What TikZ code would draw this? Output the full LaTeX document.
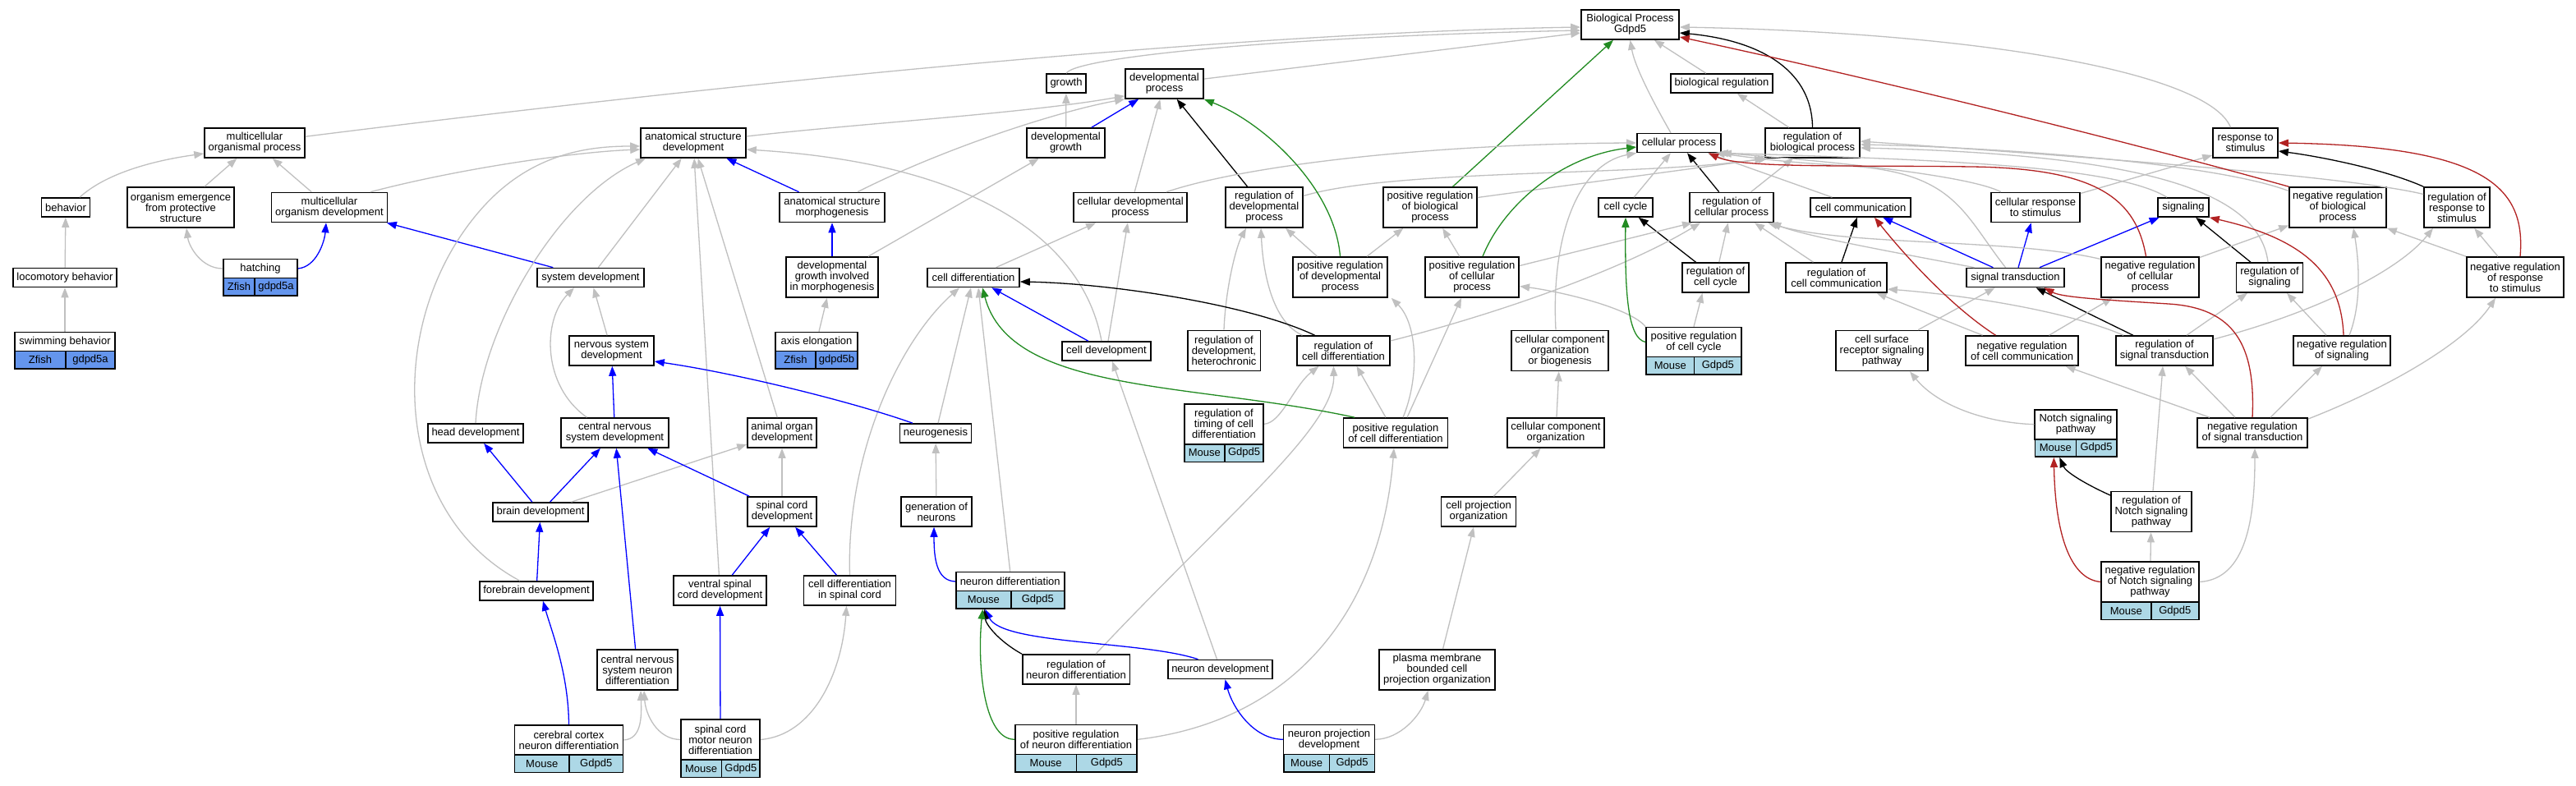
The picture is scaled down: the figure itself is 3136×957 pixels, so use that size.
\documentclass[tikz,border=0pt]{standalone}
\usepackage{fontspec}
\setmainfont{Liberation Sans}
\usetikzlibrary{arrows.meta}
\definecolor{edgegray}{HTML}{C0C0C0}
\definecolor{forest}{HTML}{228B22}
\definecolor{brick}{HTML}{B22222}
\definecolor{mouseblue}{HTML}{ADD8E6}
\definecolor{fishblue}{HTML}{6495ED}

\begin{document}
\begin{tikzpicture}[x=1pt, y=-1pt,
	term/.style={draw=black, line width=1.6pt, fill=white, inner sep=1pt, align=center, font=\fontsize{13pt}{13pt}\selectfont},
	l1/.style={term, minimum height=23pt},
	l2/.style={term, minimum height=36pt},
	l3/.style={term, minimum height=49pt},
	mouse/.style={term, fill=mouseblue, minimum height=21.5pt},
	zfish/.style={term, fill=fishblue, minimum height=21.5pt},
	isa/.style={edgegray, line width=1.3pt, -{Triangle[length=12pt, width=9pt]}},
	partof/.style={isa, blue},
	reg/.style={isa, black},
	posreg/.style={isa, forest},
	negreg/.style={isa, brick}]
	\useasboundingbox[fill=white] (0,0) rectangle (3136,957);

	\node[l1, minimum width=122pt] (swim) at (79,416) {swimming behavior};
	\node[zfish, minimum width=62pt] (swim-s) at (49,438.25) {Zfish};
	\node[zfish, minimum width=60pt] (swim-g) at (110,438.25) {gdpd5a};
	\node[l1, minimum width=126pt] (loco) at (79,338) {locomotory behavior};
	\node[l1, minimum width=59pt] (behav) at (80,252.5) {behavior};
	\node[l2, minimum width=122pt] (mop) at (310,174) {multicellular\\organismal process};
	\node[l3, minimum width=130pt] (oe) at (220,252.5) {organism emergence\\from protective\\structure};
	\node[l2, minimum width=141pt] (mod) at (401,252.5) {multicellular\\organism development};
	\node[l1, minimum width=90pt] (hatch) at (317,327) {hatching};
	\node[zfish, minimum width=38pt] (hatch-s) at (291,349.25) {Zfish};
	\node[zfish, minimum width=52pt] (hatch-g) at (336,349.25) {gdpd5a};
	\node[l1, minimum width=130pt] (sysdev) at (719,338) {system development};
	\node[l2, minimum width=103pt] (nsd) at (744.5,427) {nervous system\\development};
	\node[l2, minimum width=128pt] (asd) at (844,174) {anatomical structure\\development};
	\node[l1, minimum width=116pt] (headdev) at (579,527.5) {head development};
	\node[l2, minimum width=131pt] (cnsd) at (748.5,527) {central nervous\\system development};
	\node[l1, minimum width=116pt] (braindev) at (658,623.5) {brain development};
	\node[l1, minimum width=138pt] (fbdev) at (653,719.5) {forebrain development};
	\node[l3, minimum width=98.5pt] (cnsnd) at (776,815.5) {central nervous\\system neuron\\differentiation};
	\node[l2, minimum width=132pt] (ccnd) at (692.5,901) {cerebral cortex\\neuron differentiation};
	\node[mouse, minimum width=66.5pt] (ccnd-m) at (659.75,929.75) {Mouse};
	\node[mouse, minimum width=65.5pt] (ccnd-g) at (725.75,929.75) {Gdpd5};
	\node[l2, minimum width=84pt] (aod) at (952,527) {animal organ\\development};
	\node[l2, minimum width=84pt] (scd) at (952,623) {spinal cord\\development};
	\node[l2, minimum width=113pt] (vscd) at (876.5,719) {ventral spinal\\cord development};
	\node[l2, minimum width=112pt] (cdisc) at (1034.5,719) {cell differentiation\\in spinal cord};
	\node[l3, minimum width=96.5pt] (scmnd) at (877,900.5) {spinal cord\\motor neuron\\differentiation};
	\node[mouse, minimum width=49.75pt] (scmnd-m) at (853.6,935.75) {Mouse};
	\node[mouse, minimum width=46.75pt] (scmnd-g) at (901.9,935.75) {Gdpd5};
	\node[l1, minimum width=87pt] (neurog) at (1139,527.5) {neurogenesis};
	\node[l2, minimum width=86pt] (gon) at (1140,623) {generation of\\neurons};
	\node[l1, minimum width=132pt] (nd) at (1229.7,708) {neuron differentiation};
	\node[mouse, minimum width=67.3pt] (nd-m) at (1197.35,730.25) {Mouse};
	\node[mouse, minimum width=64.7pt] (nd-g) at (1263.35,730.25) {Gdpd5};
	\node[l2, minimum width=130.6pt] (rnd) at (1310,815) {regulation of\\neuron differentiation};
	\node[l1, minimum width=127pt] (ndev) at (1485.5,815) {neuron development};
	\node[l2, minimum width=148.5pt] (prnd) at (1310,900.3) {positive regulation\\of neuron differentiation};
	\node[mouse, minimum width=74.85pt] (prnd-m) at (1273.2,929.05) {Mouse};
	\node[mouse, minimum width=73.65pt] (prnd-g) at (1347.4,929.05) {Gdpd5};
	\node[l3, minimum width=96.5pt] (rtcd) at (1490,516.3) {regulation of\\timing of cell\\differentiation};
	\node[mouse, minimum width=49.25pt] (rtcd-m) at (1466.4,551.55) {Mouse};
	\node[mouse, minimum width=47.25pt] (rtcd-g) at (1514.6,551.55) {Gdpd5};

	\node[l1, minimum width=48pt] (growth) at (1298,101.5) {growth};
	\node[l2, minimum width=95pt] (dp) at (1417.5,102) {developmental\\process};
	\node[l2, minimum width=95pt] (dg) at (1297.5,174) {developmental\\growth};
	\node[l2, minimum width=128pt] (asm) at (1013,252.5) {anatomical structure\\morphogenesis};
	\node[l2, minimum width=138pt] (cdp) at (1376,252.5) {cellular developmental\\process};
	\node[l3, minimum width=94pt] (rdp) at (1539,252.5) {regulation of\\developmental\\process};
	\node[l3, minimum width=112pt] (dgim) at (1013,337.5) {developmental\\growth involved\\in morphogenesis};
	\node[l1, minimum width=112pt] (celldiff) at (1185,338) {cell differentiation};
	\node[l1, minimum width=100pt] (axis) at (994,416) {axis elongation};
	\node[zfish, minimum width=49pt] (axis-s) at (968.5,438.25) {Zfish};
	\node[zfish, minimum width=51pt] (axis-g) at (1018.5,438.25) {gdpd5b};
	\node[l1, minimum width=108pt] (celldev) at (1347,427.5) {cell development};
	\node[l3, minimum width=88.6pt] (rdh) at (1490,427) {regulation of\\development,\\heterochronic};
	\node[l2, minimum width=113pt] (rcd) at (1635.5,427) {regulation of\\cell differentiation};
	\node[l2, minimum width=127pt] (prcd) at (1699,527) {positive regulation\\of cell differentiation};
	\node[l2, minimum width=118.5pt] (cco) at (1894,527) {cellular component\\organization};
	\node[l2, minimum width=91pt] (cpo) at (1800,623) {cell projection\\organization};
	\node[l3, minimum width=141pt] (pmb) at (1749.5,815.5) {plasma membrane\\bounded cell\\projection organization};
	\node[l2, minimum width=110.7pt] (npd) at (1618,900.3) {neuron projection\\development};
	\node[mouse, minimum width=56pt] (npd-m) at (1590.7,929.05) {Mouse};
	\node[mouse, minimum width=54.65pt] (npd-g) at (1646,929.05) {Gdpd5};
	\node[l2, minimum width=119pt] (bp) at (1984.5,30) {Biological Process\\Gdpd5};
	\node[l1, minimum width=123.5pt] (br) at (2096,101.5) {biological regulation};
	\node[l1, minimum width=102pt] (cp) at (2044,174) {cellular process};
	\node[l2, minimum width=115pt] (rbp) at (2206.5,174) {regulation of\\biological process};
	\node[l3, minimum width=114pt] (prbp) at (1741,252.5) {positive regulation\\of biological\\process};
	\node[l1, minimum width=66pt] (cc) at (1979,252.5) {cell cycle};
	\node[l2, minimum width=101.5pt] (rcp) at (2108,252.5) {regulation of\\cellular process};
	\node[l1, minimum width=122pt] (ccom) at (2265,252.5) {cell communication};
	\node[l3, minimum width=115pt] (prdp) at (1631.5,337.5) {positive regulation\\of developmental\\process};
	\node[l3, minimum width=114.5pt] (prcp) at (1792,337.5) {positive regulation\\of cellular\\process};
	\node[l2, minimum width=81pt] (rcc) at (2088.5,338) {regulation of\\cell cycle};
	\node[l2, minimum width=123pt] (rccom) at (2235.5,338) {regulation of\\cell communication};
	\node[l3, minimum width=118pt] (ccob) at (1899,427) {cellular component\\organization\\or biogenesis};
	\node[l2, minimum width=116pt] (prcc) at (2062,416.5) {positive regulation\\of cell cycle};
	\node[mouse, minimum width=58.5pt] (prcc-m) at (2033.25,445.25) {Mouse};
	\node[mouse, minimum width=57.5pt] (prcc-g) at (2091.25,445.25) {Gdpd5};
	\node[l3, minimum width=112.5pt] (csrsp) at (2291,427) {cell surface\\receptor signaling\\pathway};

	\node[l2, minimum width=79pt] (rts) at (2733.5,174) {response to\\stimulus};
	\node[l2, minimum width=108pt] (crts) at (2478,252.5) {cellular response\\to stimulus};
	\node[l1, minimum width=62pt] (sig) at (2658,252.5) {signaling};
	\node[l3, minimum width=118pt] (nrbp) at (2846,252.5) {negative regulation\\of biological\\process};
	\node[l3, minimum width=80pt] (rrts) at (2991,252.5) {regulation of\\response to\\stimulus};
	\node[l1, minimum width=119pt] (st) at (2453.5,338) {signal transduction};
	\node[l3, minimum width=119pt] (nrcp) at (2617.5,337.5) {negative regulation\\of cellular\\process};
	\node[l2, minimum width=81pt] (rsig) at (2763,338) {regulation of\\signaling};
	\node[l3, minimum width=118.5pt] (nrrts) at (3062,337.5) {negative regulation\\of response\\to stimulus};
	\node[l2, minimum width=137pt] (nrccom) at (2461.5,427) {negative regulation\\of cell communication};
	\node[l2, minimum width=118pt] (rst) at (2635,427) {regulation of\\signal transduction};
	\node[l2, minimum width=118.5pt] (nrsig) at (2851,427) {negative regulation\\of signaling};
	\node[l2, minimum width=99.5pt] (nsp) at (2527,516.7) {Notch signaling\\pathway};
	\node[mouse, minimum width=50pt] (nsp-m) at (2502.3,545.45) {Mouse};
	\node[mouse, minimum width=49.45pt] (nsp-g) at (2552,545.45) {Gdpd5};
	\node[l2, minimum width=134.5pt] (nrst) at (2742,527) {negative regulation\\of signal transduction};
	\node[l3, minimum width=98.5pt] (rnsp) at (2619,623) {regulation of\\Notch signaling\\pathway};
	\node[l3, minimum width=119pt] (nrnsp) at (2617.5,708.5) {negative regulation\\of Notch signaling\\pathway};
	\node[mouse, minimum width=60.7pt] (nrnsp-m) at (2588.35,743.75) {Mouse};
	\node[mouse, minimum width=58.3pt] (nrnsp-g) at (2647.85,743.75) {Gdpd5};

	\foreach \a/\b in {loco/behav, swim/loco, oe/mop, mod/mop, nsd/sysdev, sysdev/asd, aod/asd, vscd/asd, scd/aod, braindev/aod, gon/neurog, dgim/dg, axis/dgim, dg/growth, cdp/dp, celldiff/cdp, celldev/cdp, br/bp, rbp/br, cc/cp, ccom/cp, rcp/rbp, rcc/rcp, rccom/rcp, prdp/prbp, prcp/prbp, prnd/rnd, cpo/cco, cco/ccob, nrrts/rrts, rst/rsig, nrnsp/rnsp}{
		\draw[isa] (\a) -- (\b);
	}
	\foreach \a/\b in {asm/asd, dgim/asm, dg/dp, sysdev/mod, cnsd/nsd, braindev/headdev, braindev/cnsd, fbdev/braindev, cnsnd/cnsd, scmnd/vscd, vscd/scd, cdisc/scd, scd/cnsd, celldev/celldiff, st/ccom, st/crts, st/sig}{
		\draw[partof] (\a) -- (\b);
	}
	\foreach \a/\b in {rdp/dp, rcp/cp, rcc/cc, rccom/ccom, rsig/sig, rst/st}{
		\draw[reg] (\a) -- (\b);
	}
	\draw[posreg] (prbp) -- (bp);

	\draw[isa] (mop) .. controls (900,100) and (1500,40) .. ([yshift=-3pt]bp.west);
	\draw[isa] (growth.north) .. controls (1310,70) and (1550,45) .. ([yshift=-7pt]bp.west);
	\draw[isa] (dp) -- ([yshift=-10pt]bp.west);
	\draw[isa] ([xshift=-10pt]cp.north) .. controls (2010,120) and (1990,80) .. (bp.south);
	\draw[isa] ([xshift=-18pt]rts.north) .. controls (2690,90) and (2420,40) .. ([yshift=-3pt]bp.east);
	\draw[isa] ([xshift=17pt]behav.north) .. controls (130,210) and (190,195) .. ([yshift=-13pt]mop.west);
	\draw[isa] (hatch.west) .. controls (245,327) and (230,300) .. ([xshift=7pt]oe.south);
	\draw[isa] ([xshift=50pt]mod.north) .. controls (560,205) and (700,185) .. ([yshift=-8pt]asd.west);
	\draw[isa] ([xshift=-34pt]cnsd.north) .. controls (660,470) and (660,390) .. ([xshift=-20pt]sysdev.south);
	\draw[isa] (headdev.north) .. controls (585,400) and (680,240) .. ([xshift=-58pt]asd.south);
	\draw[isa] ([xshift=-20pt]fbdev.north) .. controls (470,620) and (470,380) .. (590,250) .. controls (650,185) and (720,178) .. ([yshift=-4pt]asd.west);
	\draw[isa] (ccnd.east) .. controls (782,900) and (781,870) .. ([xshift=4pt]cnsnd.south);
	\draw[isa] (scmnd.west) .. controls (800,900) and (786,870) .. ([xshift=8pt]cnsnd.south);
	\draw[isa] (scmnd.east) .. controls (990,895) and (1025,820) .. ([xshift=-4pt]cdisc.south);
	\draw[isa] (cdisc.north) .. controls (1030,560) and (1090,420) .. ([xshift=-17pt]celldiff.south);
	\draw[isa] ([xshift=3pt]neurog.north) -- ([xshift=-3pt]celldiff.south);
	\draw[isa] (nd.north) -- ([xshift=6pt]celldiff.south);
	\draw[isa] ([xshift=-6pt]celldev.north) .. controls (1320,300) and (1200,200) .. ([yshift=-8pt]asd.east);
	\draw[isa] ([yshift=8pt]asd.east) .. controls (1050,150) and (1250,138) .. ([yshift=4pt]dp.south west);
	\draw[isa] ([xshift=31pt]asm.north) .. controls (1150,180) and (1290,135) .. (dp.south west);
	\draw[isa] ([xshift=44pt]cdp.north) .. controls (1520,200) and (1750,175) .. (cp.west);
	\draw[isa] ([yshift=14pt]rdp.east) .. controls (1700,205) and (2000,215) .. (rbp.south west);
	\draw[isa] ([yshift=12pt]prbp.east) -- ([xshift=4pt]rbp.south west);
	\draw[isa] ([xshift=-28pt]prdp.north) -- ([xshift=26pt]rdp.south);
	\draw[isa] (rdh.north) .. controls (1492,350) and (1505,300) .. ([xshift=-22pt]rdp.south);
	\draw[isa] ([xshift=-50pt]rcd.north) .. controls (1545,390) and (1537,320) .. ([xshift=-4pt]rdp.south);
	\draw[isa] (rtcd.east) .. controls (1560,515) and (1575,470) .. ([xshift=-30pt]rcd.south);
	\draw[isa] ([xshift=24pt]rnd.north) .. controls (1500,620) and (1625,520) .. ([xshift=-12pt]rcd.south);
	\draw[isa] ([xshift=-12pt]prcd.north) -- ([xshift=16pt]rcd.south);
	\draw[isa] ([xshift=9pt]prcd.north) .. controls (1728,460) and (1726,395) .. ([xshift=4pt]prdp.south east);
	\draw[isa] ([xshift=14pt]prcd.north) -- ([xshift=-13pt]prcp.south);
	\draw[isa] (prnd.east) .. controls (1560,880) and (1680,760) .. ([xshift=-2pt]prcd.south);
	\draw[isa] ([xshift=-4pt]ndev.north) -- ([xshift=7pt]celldev.south);
	\draw[isa] (npd.east) .. controls (1705,900) and (1730,870) .. ([xshift=-11pt]pmb.south);
	\draw[isa] ([xshift=7pt]pmb.north) -- ([xshift=-6pt]cpo.south);
	\draw[isa] ([xshift=-5pt]ccob.north) .. controls (1888,290) and (1920,200) .. (cp.south west);
	\draw[isa] ([yshift=14pt]prcp.east) -- ([xshift=-48pt]rcp.south);
	\draw[isa] ([yshift=12pt]rcd.east) .. controls (1850,375) and (1990,320) .. ([xshift=-38pt]rcp.south);
	\draw[isa] (prcc.north west) .. controls (1985,375) and (1900,355) .. ([yshift=-11pt]prcp.east);
	\draw[isa] (prcc.north) -- ([xshift=-16pt]rcc.south);
	\draw[isa] ([xshift=-42pt]crts.north) .. controls (2400,215) and (2250,198) .. (cp.south east);
	\draw[isa] ([xshift=-20pt]sig.north) .. controls (2580,205) and (2400,195) .. ([xshift=-4pt]cp.south east);
	\draw[isa] ([xshift=-12pt]st.north) .. controls (2390,260) and (2380,210) .. (2250,202) .. controls (2160,197) and (2120,190) .. ([xshift=-8pt]cp.south east);
	\draw[isa] ([xshift=-50pt]st.north) .. controls (2300,306) and (2200,288) .. ([xshift=48pt]rcp.south);
	\draw[isa] ([yshift=17pt]crts.east) -- ([yshift=-15pt]rts.west);
	\draw[isa] ([xshift=-48pt]nrccom.north) -- ([xshift=49pt]rccom.south);
	\draw[isa] ([xshift=33pt]nrccom.north) -- ([xshift=-46pt]nrcp.south);
	\draw[isa] ([xshift=-50pt]rst.north) .. controls (2520,380) and (2400,360) .. ([yshift=-14pt]rccom.east);
	\draw[isa] ([xshift=44pt]csrsp.north) -- ([xshift=-25pt]st.south);
	\draw[isa] (nsp.west) .. controls (2420,515) and (2360,495) .. ([xshift=34pt]csrsp.south);
	\draw[isa] ([xshift=2pt]rnsp.north) -- ([xshift=-2pt]rst.south);
	\draw[isa] (nrnsp.east) .. controls (2735,705) and (2745,630) .. ([xshift=3pt]nrst.south);
	\draw[isa] ([xshift=-21pt]nrst.north) -- ([xshift=25pt]rst.south);
	\draw[isa] ([xshift=-52pt]nrst.north) -- ([xshift=53pt]nrccom.south);
	\draw[isa] ([xshift=22pt]nrst.north) -- ([xshift=-24pt]nrsig.south);
	\draw[isa] ([yshift=17pt]nrst.east) .. controls (2900,475) and (3000,420) .. ([xshift=-24pt]nrrts.south);
	\draw[isa] ([xshift=-19pt]nrsig.north) -- ([xshift=21pt]rsig.south);
	\draw[isa] ([xshift=9pt]nrsig.north) .. controls (2875,370) and (2872,320) .. ([xshift=19pt]nrbp.south);
	\draw[isa] ([yshift=14pt]rst.east) .. controls (2820,380) and (2920,330) .. ([xshift=-29pt]rrts.south);
	\draw[isa] ([yshift=24pt]nrcp.east) -- ([yshift=-22pt]nrbp.west);
	\draw[isa] ([yshift=22pt]nrcp.west) .. controls (2450,290) and (2250,300) .. ([xshift=44pt]rcp.south);
	\draw[isa] (nrrts.north west) -- (nrbp.south east);
	\draw[isa] ([yshift=20pt]nrbp.west) .. controls (2700,200) and (2450,180) .. ([yshift=-2pt]rbp.east);
	\draw[isa] ([yshift=16pt]rrts.west) .. controls (2850,212) and (2450,185) .. ([yshift=2pt]rbp.east);
	\draw[isa] ([xshift=-2pt]rsig.north) .. controls (2750,230) and (2600,188) .. ([yshift=-6pt]rbp.east);

	\draw[partof] (hatch.east) .. controls (385,325) and (395,295) .. ([xshift=-4pt]mod.south);
	\draw[partof] ([xshift=-28pt]neurog.north) .. controls (1040,490) and (900,455) .. ([yshift=-13pt]nsd.east);
	\draw[partof] (ccnd.north) .. controls (692,820) and (672,770) .. ([xshift=8pt]fbdev.south);
	\draw[partof] (nd.west) .. controls (1140,707) and (1137,680) .. ([xshift=-3pt]gon.south);
	\draw[partof] ([xshift=-27pt]ndev.north) .. controls (1390,780) and (1220,785) .. ([xshift=2pt]nd-m.south);
	\draw[partof] (npd.west) .. controls (1525,900) and (1500,860) .. ([xshift=6pt]ndev.south);

	\draw[reg] (rbp.north) .. controls (2206,90) and (2150,50) .. ([yshift=-10pt]bp.east);
	\draw[reg] ([xshift=-35pt]rcd.north) .. controls (1520,370) and (1350,345) .. ([yshift=-5pt]celldiff.east);
	\draw[reg] ([yshift=20pt]rnsp.west) .. controls (2540,590) and (2515,575) .. ([xshift=5pt]nsp-m.south);
	\draw[reg] (rnd.north west) .. controls (1215,780) and (1200,760) .. ([xshift=1pt]nd-m.south);
	\draw[reg] (rrts.north west) .. controls (2900,205) and (2820,190) .. ([yshift=-10pt]rts.east);

	\draw[posreg] (prdp.north) .. controls (1625,230) and (1540,150) .. (dp.south east);
	\draw[posreg] ([xshift=13pt]prcp.north) .. controls (1830,250) and (1900,190) .. ([yshift=-5pt]cp.west);
	\draw[posreg] ([xshift=-50pt]prcd.north) .. controls (1450,465) and (1230,480) .. ([xshift=11pt]celldiff.south);
	\draw[posreg] (prcc.west) .. controls (1982,412) and (1978,360) .. (cc.south);
	\draw[posreg] (prnd.west) .. controls (1195,900) and (1190,800) .. ([xshift=-1pt]nd-m.south);

	\draw[negreg] (nrbp.north west) .. controls (2600,175) and (2300,100) .. ([yshift=-15pt]bp.east);
	\draw[negreg] ([xshift=-5pt]nrcp.north) .. controls (2600,240) and (2550,205) .. (2400,203) .. controls (2250,201) and (2120,205) .. ([xshift=36pt]cp.south);
	\draw[negreg] ([xshift=-32pt]nrccom.north) .. controls (2370,370) and (2310,300) .. ([xshift=17pt]ccom.south);
	\draw[negreg] ([xshift=2pt]nrsig.north) .. controls (2850,330) and (2800,290) .. (sig.south east);
	\draw[negreg] (nrst.north) .. controls (2746,420) and (2720,375) .. (2640,370) .. controls (2560,365) and (2510,362) .. ([xshift=35pt]st.south);
	\draw[negreg] (nrnsp.west) .. controls (2520,705) and (2502,650) .. ([xshift=-2pt]nsp-m.south);
	\draw[negreg] ([xshift=6pt]nrrts.north) .. controls (3075,230) and (3030,178) .. (rts.east);
\end{tikzpicture}
\end{document}
